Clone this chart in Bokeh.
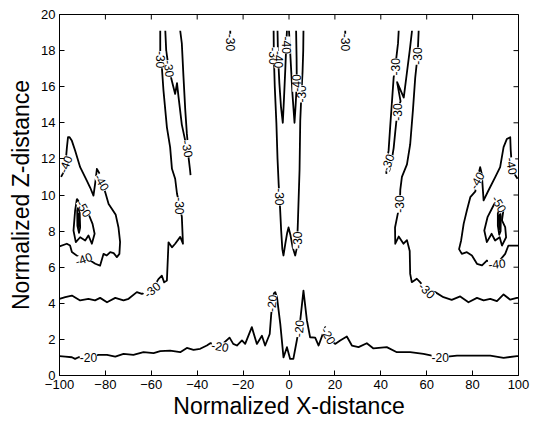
from bokeh.plotting import figure
from bokeh.models import Range1d, FixedTicker, ColumnDataSource
from bokeh.core.properties import value
from bokeh.embed import file_html
from bokeh.resources import INLINE

# ---------------- data ----------------
x_ticks = [-100, -80, -60, -40, -20, 0, 20, 40, 60, 80, 100]
z_ticks = [0, 2, 4, 6, 8, 10, 12, 14, 16, 18, 20]

# -20 contour
c20_x = [-100, -97.5, -94.6, -93.2, -91.7, -87.4, -83, -79.3, -75.7, -72.1, -67.8, -63.4, -59, -56.1,
         -51.8, -47.4, -44.5, -41.6, -38.7, -35.8, -34.3, -30, -25.9, -24.3, -22.7, -20.5, -19.1,
         -16.2, -14.0, -11.8, -10.4, -8.4, -7.8, -7.3, -6.6, -6.0, -5.2, -3.8, -2.4, -0.9, 0.5, 1.9,
         3.4, 4.3, 4.9, 6.3, 7.8, 9.2, 11.4, 12.9, 15.8, 17.3, 20.1, 22.3, 25.2, 27.4, 30.3, 33.9,
         36.8, 42.6, 47, 52.8, 58.6, 65.9, 73.2, 79, 87.7, 93.5, 99.3, 100]
c20_z = [1.07, 1.05, 1.01, 0.92, 1.01, 1.02, 1.14, 1.14, 1.05, 1.2, 1.14, 1.29, 1.24, 1.35,
         1.38, 1.29, 1.53, 1.42, 1.48, 1.66, 1.79, 1.62, 2.1, 1.75, 1.66, 1.94, 1.75,
         2.68, 1.75, 2.2, 1.66, 2.3, 3.3, 4.0, 4.55, 4.62, 4.3, 2.86, 1.0, 1.57, 0.92, 0.92,
         1.94, 2.6, 3.05, 4.7, 3.05, 2.12, 2.1, 1.66, 2.68, 2.1, 1.75, 1.94, 2.16, 1.66, 1.57, 1.79,
         1.5, 1.57, 1.29, 1.29, 1.2, 1.0, 1.1, 1.1, 1.1, 0.98, 1.07, 1.07]

# -30 contours
l30a_x = [-100, -97.5, -94.6, -91, -87.4, -84.5, -82.3, -79.3, -75.7, -72.1, -69.9, -66.3, -64.1,
          -59.7, -56.9, -55.4, -54.4, -53.2, -52.5, -51, -49.6, -47.4, -46.2, -46.7, -47.6, -48.8,
          -49.6, -51, -51.8, -53.2, -54.7, -55.4, -55.9, -56.1, -56.1]
l30a_z = [4.25, 4.34, 4.43, 4.16, 4.25, 4.16, 4.3, 4.06, 4.3, 4.16, 4.25, 4.62, 4.52,
          4.75, 5.34, 5.53, 5.16, 5.26, 7.38, 7.1, 7.3, 7.68, 7.3, 8.8, 9.4, 10.07,
          10.9, 11.45, 12.65, 13.75, 15.8, 17.08, 17.5, 17.82, 19.1]
l30b_x = [-53.9, -53.5, -52.5, -51, -49.6, -48.8, -48.1, -46.7, -45.2, -44.2, -43.1, -42.9]
l30b_z = [19.1, 18.0, 17.1, 16.3, 15.6, 16.2, 15.4, 13.9, 13.0, 12.56, 11.36, 11.1]
l30c_x = [-47.4, -46.7, -46.0, -45.2, -44.5, -44.0]
l30c_z = [19.1, 18.4, 16.6, 14.7, 13.4, 12.7]

r30a_x = [56.5, 56.2, 56.0, 55, 54, 52.8, 51.4, 49.2, 48.5, 48.3, 47.3, 46.2, 46.3, 47.8, 49.9,
          51.4, 52.6, 52.8, 53.5, 55.7, 57.1, 60.1, 63.7, 67.3, 70.9, 74.6, 78.2, 81.9, 84.8,
          87.7, 90.6, 93.5, 96.4, 99.3, 100]
r30a_z = [19.1, 18.2, 17.7, 16.5, 14.7, 12.8, 11.7, 11.0, 10.3, 9.5, 8.9, 8.2, 7.3, 7.7, 7.3,
          7.5, 6.9, 5.63, 5.17, 5.36, 5.17, 4.71, 4.62, 4.34, 4.19, 4.38, 4.06, 4.3, 4.16,
          4.25, 4.12, 4.49, 4.2, 4.3, 4.3]
r30b_x = [53.6, 52.6, 51.4, 50.0, 47.1, 48.6, 47.2, 46.3, 45.6, 44.6, 43.6]
r30b_z = [19.1, 18.0, 16.8, 15.4, 16.25, 15.2, 14.6, 13.5, 12.6, 11.8, 11.3]
r30c_x = [47.8, 47.5, 46.3, 45.6, 44.8, 44.1, 43.4, 42.6, 42.4]
r30c_z = [19.1, 18.4, 17.1, 16.5, 15.05, 13.8, 12.47, 11.8, 11.17]

m30_x = [-6.7, -6.6, -6.2, -5.5, -5.0, -4.5, -4.2, -3.9, -3.4, -2.9, -2.4, -1.6, -0.8, -0.2, 0.6,
         1.6, 2.7, 3.3, 3.6, 3.9, 4.6, 4.9, 5.4, 5.9, 6.2, 6.3]
m30_z = [19.1, 17.7, 16.0, 14.0, 12.0, 10.6, 9.9, 9.3, 8.0, 7.0, 6.65, 7.3, 7.9, 8.2, 7.8,
         7.1, 6.65, 7.0, 7.5, 8.6, 11.4, 14.1, 15.6, 16.8, 18.0, 19.1]
t30l_x = [-25.6, -25.6]
t30l_z = [19.1, 18.2]
t30r_x = [24.5, 24.5]
t30r_z = [19.1, 18.2]

# -40 contours
m40a_x = [-5.0, -4.8, -4.2, -3.5, -2.7, -2.2, -1.6, -1.2, -0.9]
m40a_z = [19.1, 17.8, 16.2, 14.9, 14.0, 15.3, 17.0, 18.3, 19.1]
m40b_x = [0.0, 0.7, 1.5, 2.4, 2.9, 3.4, 3.3, 3.1]
m40b_z = [19.1, 17.5, 15.6, 14.0, 15.0, 16.2, 17.6, 19.1]
l40_x = [-100, -96.8, -95.4, -94.6, -92, -89.5, -86.6, -84.4, -82.3, -80.8, -79.4, -77.9, -76.4,
         -75, -73.9, -73.6, -74.3, -75.5, -77.0, -78.6, -80.1, -81.5, -82.6, -83.7, -84.4, -85.2,
         -86.6, -88.1, -91, -93.2, -94.6, -95.6, -96.3, -96.8, -97.4, -98.5, -99.3]
l40_z = [7.15, 7.3, 7.2, 6.84, 6.6, 6.46, 6.37, 6.19, 6.09, 6.74, 6.65, 6.83, 6.78,
         6.56, 6.74, 7.4, 8.2, 8.9, 9.2, 9.5, 10.16, 10.7, 11.2, 11.45, 10.7, 9.97,
         10.4, 10.8, 11.54, 12.47, 13.0, 13.2, 13.2, 12.6, 11.7, 11.2, 11.0]
r40_x = [99.6, 98.6, 97.1, 96.6, 96.4, 94.9, 93.5, 92, 89.8, 86.9, 84.8, 84.0, 83.3, 81.9, 81.2,
         79, 77.5, 76.1, 75.0, 74.1, 75.3, 77.5, 79.7, 81.9, 84.1, 86.2, 90.6, 94.2, 95.6, 99.3, 100]
r40_z = [10.9, 11.1, 11.6, 12.5, 13.2, 13.1, 12.65, 11.54, 10.98, 10.25, 9.7, 11.17, 11.54, 10.8,
         10.2, 9.88, 9.14, 8.4, 7.48, 7.0, 6.74, 6.83, 6.65, 6.19, 6.1, 6.37, 6.19, 6.74, 7.2,
         7.2, 7.2]

# -50 and inner contours
l50_x = [-92.4, -93.2, -93.9, -92.9, -91, -88.8, -87.4, -85.9, -84.7, -85.6, -87.4, -89.5, -91.0, -92.4]
l50_z = [9.8, 9.14, 8.03, 7.39, 7.66, 7.48, 7.76, 7.3, 7.85, 8.4, 8.96, 9.3, 9.5, 9.8]
r50_x = [90.6, 93.5, 92.8, 94.2, 94.6, 92.8, 91.8, 89.8, 88.3, 86.2, 85.1, 86.5, 89.1, 90.6]
r50_z = [9.79, 9.23, 8.6, 8.22, 7.66, 7.2, 7.66, 7.48, 7.85, 7.39, 8.03, 8.77, 9.42, 9.79]
l60_x = [-92.3, -91.8, -91.2, -91.0, -91.5, -92.2, -92.3]
l60_z = [9.2, 9.3, 9.0, 8.2, 7.9, 8.3, 9.2]
l70_x = [-91.9, -91.5, -91.4, -91.7, -91.9]
l70_z = [9.0, 8.9, 8.3, 8.2, 9.0]
r60_x = [91.0, 91.8, 92.3, 92.2, 91.6, 91.0, 91.0]
r60_z = [9.0, 9.2, 8.8, 8.0, 7.8, 8.3, 9.0]
r70_x = [91.4, 91.8, 91.9, 91.6, 91.4]
r70_z = [8.9, 8.9, 8.2, 8.1, 8.9]

# contour labels
lab_x = [-87.4, -30, -7.5, 4.3, 17.2, 65.9,
         -59.7, -47.6, -55.9, -52.2, -44.2, -25.6, 24.5, -6.6, -4.2, 3.6, 5.5,
         56.0, 48.3, 47.2, 46.3, 43.0, 60.1,
         -4.4, -1.2, 3.4, -97.4, -81.5, -89.5, 97.1, 81.9, 90.6,
         -89.3, 91.6]
lab_z = [1.02, 1.62, 4.0, 2.6, 2.2, 1.0,
         4.75, 9.4, 17.5, 17.0, 12.56, 18.45, 18.45, 17.7, 9.9, 7.5, 15.6,
         17.7, 9.5, 14.6, 17.1, 11.8, 4.71,
         17.5, 18.3, 16.2, 11.7, 10.7, 6.46, 11.6, 10.8, 6.19,
         9.25, 9.5]
lab_text = ["-20", "-20", "-20", "-20", "-20", "-20",
            "-30", "-30", "-30", "-30", "-30", "-30", "-30", "-30", "-30", "-30", "-30",
            "-30", "-30", "-30", "-30", "-30", "-30",
            "-40", "-40", "-40", "-40", "-40", "-40", "-40", "-40", "-40",
            "-50", "-50"]
lab_angle = [0, -10, 85, 85, -60, 0,
             40, -90, -90, -85, -80, -90, -90, -90, -90, 90, 90,
             90, 90, 90, 90, 70, -45,
             -90, -90, 90, 70, -60, 20, -80, 60, 5,
             -60, -60]

# ---------------- figure ----------------
p = figure(width=531, height=421, output_backend="svg", toolbar_location=None,
           x_range=Range1d(-100, 100), y_range=Range1d(0, 20),
           min_border_left=59, min_border_right=13, min_border_top=14, min_border_bottom=46)
p.xgrid.visible = False
p.ygrid.visible = False
p.outline_line_color = "black"
p.outline_line_width = 1
p.background_fill_color = "white"

font = "Liberation Sans"
for ax, ticks in ((p.xaxis[0], x_ticks), (p.yaxis[0], z_ticks)):
    ax.ticker = FixedTicker(ticks=ticks)
    ax.major_tick_in = 5
    ax.major_tick_out = 0
    ax.minor_tick_in = 0
    ax.minor_tick_out = 0
    ax.axis_line_color = "black"
    ax.major_tick_line_color = "black"
    ax.major_label_text_font = font
    ax.major_label_text_font_size = "13px"
    ax.major_label_text_color = "black"
    ax.axis_label_text_font = font
    ax.axis_label_text_font_style = "normal"
    ax.axis_label_text_font_size = "23px"
    ax.axis_label_text_color = "black"

p.xaxis[0].axis_label = "Normalized X-distance"
p.xaxis[0].major_label_standoff = 4
p.xaxis[0].axis_label_standoff = 1
p.yaxis[0].axis_label = "Normalized Z-distance"
p.yaxis[0].major_label_standoff = 4
p.yaxis[0].axis_label_standoff = 4

# inward tick marks on the top and right edges (clipped to the frame)
p.scatter(x=x_ticks, y=[20] * len(x_ticks), marker="dash", size=10, angle=90,
          angle_units="deg", line_color="black", line_width=1)
p.scatter(x=[100] * len(z_ticks), y=z_ticks, marker="dash", size=10,
          line_color="black", line_width=1)

xs = [c20_x, l30a_x, l30b_x, l30c_x, r30a_x, r30b_x, r30c_x, m30_x, t30l_x, t30r_x,
      m40a_x, m40b_x, l40_x, r40_x, l50_x, r50_x, l60_x, l70_x, r60_x, r70_x]
ys = [c20_z, l30a_z, l30b_z, l30c_z, r30a_z, r30b_z, r30c_z, m30_z, t30l_z, t30r_z,
      m40a_z, m40b_z, l40_z, r40_z, l50_z, r50_z, l60_z, l70_z, r60_z, r70_z]
p.multi_line(xs=xs, ys=ys, line_color="black", line_width=1.8, line_join="round")

src = ColumnDataSource(dict(x=lab_x, y=lab_z, text=lab_text, angle=lab_angle))
p.text(x="x", y="y", text="text", angle="angle", angle_units="deg", source=src,
       text_align="center", text_baseline="middle", text_font=value(font),
       text_font_size="12px", text_color="black",
       background_fill_color="white")

open("out.html", "w").write(file_html(p, INLINE))
